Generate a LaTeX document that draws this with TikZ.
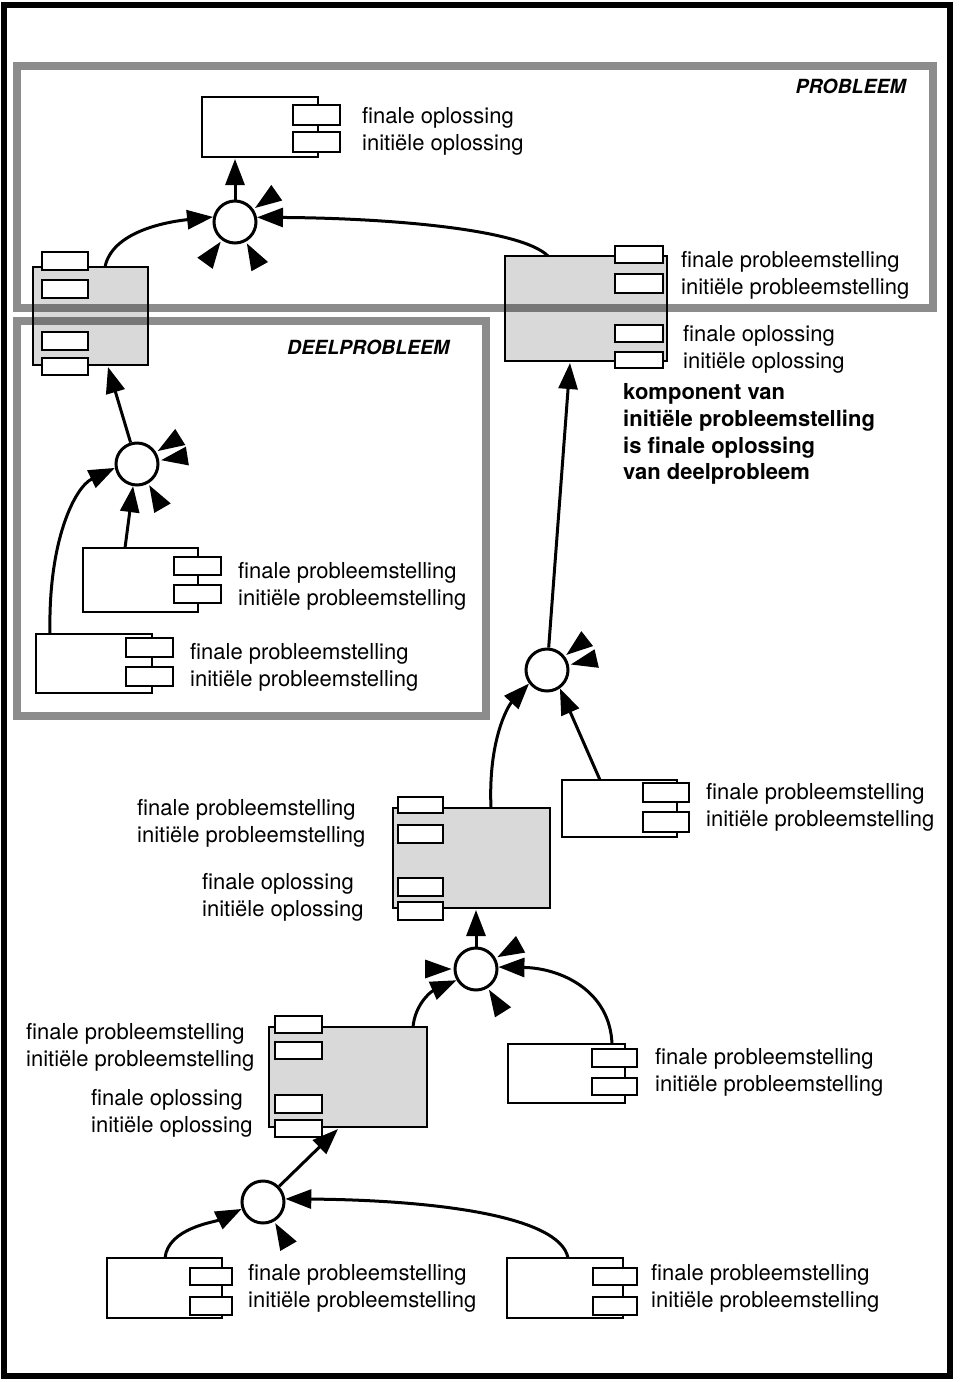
\documentclass[tikz,border=0pt]{standalone}
\usepackage{fontspec}
\setmainfont{TeX Gyre Heros}
\usetikzlibrary{arrows.meta,calc,fit}

% small rectangular connector tab of a component
\newcommand\tabrect[4]{\draw[tabbox] (#1,#2) rectangle (#3,#4);}
% free-standing arrowhead pointing into a junction (#1) from image angle #2
\newcommand\stubhead[2]{\fill ($(#1)+(#2:24.5)$) -- ($(#1)+(#2:51)+({#2+90}:9.5)$) -- ($(#1)+(#2:51)+({#2-90}:9.5)$) -- cycle;}
% two stacked text lines, named #1a and #1b
\newcommand\twolines[5]{%
  \node[lbl] (#1a) at (#2,#3) {#4};
  \node[lbl] (#1b) at (#2,#3+27) {#5};}

\begin{document}
\begin{tikzpicture}[x=1pt,y=-1pt,
  body/.style={draw, line width=2.5pt, inner sep=0pt, outer sep=0pt},
  wbody/.style={body, fill=white},
  sbody/.style={body, fill=gray!30},
  tabbox/.style={draw, line width=2.8pt, fill=white},
  junction/.style={circle, draw, line width=3pt, fill=white, minimum size=42pt, inner sep=0pt},
  flow/.style={line width=3pt, -{Triangle[length=26pt,width=19pt]}},
  lbl/.style={font=\fontsize{22}{27}\selectfont, anchor=base west, inner sep=0pt},
  note/.style={font=\fontsize{22}{27}\selectfont\bfseries, anchor=base west, inner sep=0pt},
  region/.style={draw=black, draw opacity=0.45, line width=8.5pt},
  regiontitle/.style={font=\fontsize{19.5}{23}\selectfont\bfseries\itshape, inner sep=0pt}
]
\useasboundingbox (0,0) rectangle (959,1382);

% outer frame
\draw[line width=5.5pt] (4,5) rectangle (950,1376);

% ---------- components (bodies) ----------
\node[wbody, fit={(202,97)(318,157)}] (ctop) {};
\node[sbody, fit={(33,267)(148,365)}] (spl) {};
\node[sbody, fit={(505,256)(667,361)}] (spr) {};
\node[wbody, fit={(83,548)(198,612)}] (wd1) {};
\node[wbody, fit={(36,634)(152,693)}] (wd2) {};
\node[wbody, fit={(562,780)(677,837)}] (wm) {};
\node[sbody, fit={(393,808)(550,908)}] (sm1) {};
\node[sbody, fit={(269,1027)(427,1127)}] (sm2) {};
\node[wbody, fit={(508,1044)(625,1103)}] (wr3) {};
\node[wbody, fit={(107,1258)(222,1318)}] (wbl) {};
\node[wbody, fit={(507,1258)(623,1318)}] (wbr) {};

% ---------- tabs ----------
\tabrect{293}{105}{340}{125} \tabrect{293}{132}{340}{152}
\tabrect{42}{252}{88}{270} \tabrect{42}{280}{88}{298}
\tabrect{42}{332}{88}{350} \tabrect{42}{358}{88}{375}
\tabrect{615}{246}{663}{263} \tabrect{615}{274}{663}{293}
\tabrect{615}{325}{663}{342} \tabrect{615}{352}{663}{368}
\tabrect{174}{557}{221}{575} \tabrect{174}{585}{221}{603}
\tabrect{126}{638}{173}{657} \tabrect{126}{667}{173}{686}
\tabrect{643}{783}{689}{802} \tabrect{643}{812}{689}{832}
\tabrect{398}{797}{443}{813} \tabrect{398}{825}{443}{843}
\tabrect{398}{878}{443}{896} \tabrect{398}{902}{443}{920}
\tabrect{275}{1016}{322}{1033} \tabrect{275}{1042}{322}{1059}
\tabrect{275}{1095}{322}{1113} \tabrect{275}{1120}{322}{1137}
\tabrect{592}{1049}{637}{1067} \tabrect{592}{1078}{637}{1095}
\tabrect{190}{1268}{232}{1285} \tabrect{190}{1297}{232}{1315}
\tabrect{593}{1268}{637}{1285} \tabrect{593}{1297}{637}{1315}

% ---------- junctions ----------
\node[junction] (j1) at (235,222) {};
\node[junction] (j2) at (137,464) {};
\node[junction] (j3) at (547,670) {};
\node[junction] (j4) at (476,969) {};
\node[junction] (j5) at (263,1202) {};

% ---------- connectors ----------
\draw[flow] ($(spl.north west)+(72,0)$) .. controls (112,232) and (165,222) .. (j1.167);
\draw[flow] ($(spr.north west)+(43,0)$) .. controls (520,228) and (380,218) .. (j1.12);
\draw[flow] (j1) -- ($(j1 |- ctop.south)+(0,2)$);

\draw[flow] ($(wd2.north west)+(14,0)$) .. controls (48,540) and (75,487) .. (j2.-170);
\draw[flow] ($(wd1.north west)+(42,0)$) -- (j2.-100);
\draw[flow] (j2) -- ($(spl.south west)+(75,2)$);

\draw[flow] ($(sm1.north west)+(98,0)$) .. controls (488,740) and (508,706) .. (j3.-143);
\draw[flow] ($(wm.north west)+(38,0)$) -- (j3.-55);
\draw[flow] (j3) -- ($(spr.south west)+(65,2)$);

\draw[flow] ($(sm2.north west)+(144,0)$) .. controls (415,1005) and (430,992) .. (j4.-150);
\draw[flow] ($(wr3.north west)+(104,0)$) .. controls (610,990) and (560,968) .. (j4.5);
\draw[flow] (j4) -- ($(j4 |- sm1.south)+(0,2)$);

\draw[flow] ($(wbl.north west)+(58,0)$) .. controls (168,1228) and (215,1222) .. (j5.-162);
\draw[flow] ($(wbr.north west)+(61,0)$) .. controls (560,1215) and (430,1200) .. (j5.8);
\draw[flow] (j5) -- ($(sm2.south west)+(69,2)$);

% ---------- loose arrowheads around the junctions ----------
\stubhead{j1}{-35} \stubhead{j1}{126} \stubhead{j1}{61}
\stubhead{j2}{-32} \stubhead{j2}{-9} \stubhead{j2}{60}
\stubhead{j3}{-38} \stubhead{j3}{-13}
\stubhead{j4}{-29} \stubhead{j4}{180} \stubhead{j4}{58}
\stubhead{j5}{60}

% ---------- regions ----------
\draw[region] (17,66) rectangle (933,308);
\draw[region] (17,321) rectangle (486,716);
\node[regiontitle, anchor=base east] (tprob) at (906,93) {PROBLEEM};
\node[regiontitle, anchor=base west] (tdeel) at (287,354) {DEELPROBLEEM};

% ---------- labels ----------
\twolines{ltop}{362}{123.5}{finale oplossing}{initiële oplossing}
\twolines{lpra}{681}{267}{finale probleemstelling}{initiële probleemstelling}
\twolines{lprb}{683}{341}{finale oplossing}{initiële oplossing}
\node[note] (n1) at (623,399) {komponent van};
\node[note] (n2) at (623,426) {initiële probleemstelling};
\node[note] (n3) at (623,453) {is finale oplossing};
\node[note] (n4) at (623,479) {van deelprobleem};
\twolines{ld1}{238}{578}{finale probleemstelling}{initiële probleemstelling}
\twolines{ld2}{190}{659}{finale probleemstelling}{initiële probleemstelling}
\twolines{lwm}{706}{799}{finale probleemstelling}{initiële probleemstelling}
\twolines{lm1a}{137}{815}{finale probleemstelling}{initiële probleemstelling}
\twolines{lm1b}{202}{889}{finale oplossing}{initiële oplossing}
\twolines{lr3}{655}{1064}{finale probleemstelling}{initiële probleemstelling}
\twolines{lm2a}{26}{1039}{finale probleemstelling}{initiële probleemstelling}
\twolines{lm2b}{91}{1105}{finale oplossing}{initiële oplossing}
\twolines{lbl}{248}{1280}{finale probleemstelling}{initiële probleemstelling}
\twolines{lbr}{651}{1280}{finale probleemstelling}{initiële probleemstelling}
\end{tikzpicture}
\end{document}
